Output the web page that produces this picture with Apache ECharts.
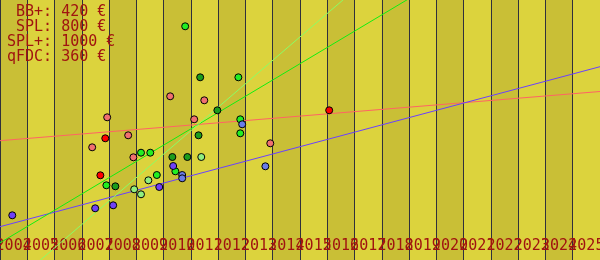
<!DOCTYPE html>
<html>
<head>
<meta charset="utf-8">
<script src="https://cdn.jsdelivr.net/npm/echarts@6/dist/echarts.min.js"></script>
<style>
html,body{margin:0;padding:0;background:#dcd33d;}
#chart{width:600px;height:260px;}
</style>
</head>
<body>
<div id="chart"></div>
<script>
// tick labels (one per year band)
const years = ['2004','2005','2006','2007','2008','2009','2010','2011','2012','2013','2014',
               '2015','2016','2017','2018','2019','2020','2021','2022','2023','2024','2025'];

// legend text
const legendNames = ['BB+', 'SPL', 'SPL+', 'qFDC'];
const legendPrices = [420, 800, 1000, 360];

// scatter points [year, value]
const redPts = [[2007.86,121.7],[2007.68,84.7],[2016.07,149.7]];
const salmonPts = [[2007.93,142.7],[2008.70,124.7],[2007.38,112.7],[2008.89,102.7],
                   [2010.24,163.7],[2011.49,159.7],[2011.12,140.7],[2013.91,116.7]];
const brightGreenPts = [[2007.90,74.7],[2009.17,107.3],[2009.51,107.3],[2009.75,85],
                        [2010.43,88.7],[2010.79,233.7],[2012.74,182.7],[2012.81,140.7],[2012.81,126.7]];
const darkGreenPts = [[2008.23,73.7],[2010.32,103],[2010.87,103],[2011.28,124.7],
                      [2011.34,182.7],[2011.97,149.7]];
const lightGreenPts = [[2008.92,70.7],[2009.17,65.7],[2009.44,79.7],[2011.38,103]];
const purplePts = [[2004.45,44.7],[2007.49,51.7],[2008.15,54.7],[2009.84,73],[2010.35,94]];
const lightBluePts = [[2010.68,85],[2010.68,81.7],[2012.88,135.7],[2013.73,93.7]];

// trend lines [year, value] endpoints
const trendRed = [[2004,119.3],[2026,168.5]];
const trendBlue = [[2004,33.3],[2026,193.3]];
const trendGreen = [[2004,17.2],[2026,375.4]];
const trendLightGreen = [[2004,-34.8],[2026,481]];

const legendText = legendNames.map((n, i) => n.padStart(4) + ': ' + legendPrices[i] + ' €').join('\n');

function trend(data, color) {
  return {type:'line', xAxisIndex:1, data:data, symbol:'none', silent:true, z:1,
          lineStyle:{color:color, width:1}};
}
function pts(data, color) {
  return {type:'scatter', xAxisIndex:1, data:data, symbolSize:7, z:3,
          itemStyle:{color:color, borderColor:'#000', borderWidth:1, opacity:1}};
}

const chart = echarts.init(document.getElementById('chart'));
chart.setOption({
  animation:false,
  backgroundColor:'#dcd33d',
  title:{
    text:legendText, left:7, top:5, padding:0,
    textStyle:{fontFamily:'DejaVu Sans Mono', fontSize:15, fontWeight:'normal', color:'#a01410', lineHeight:15}
  },
  grid:{left:0, right:0, top:0, bottom:0, containLabel:false, outerBoundsMode:'none'},
  xAxis:[
    {type:'category', data:years, boundaryGap:true,
     axisLine:{show:false}, axisTick:{show:false},
     axisLabel:{inside:true, interval:0, hideOverlap:false, color:'#a01410',
                fontFamily:'DejaVu Sans Mono', fontSize:15, margin:6},
     splitLine:{show:true, interval:0, lineStyle:{color:'#30303c', width:1}},
     splitArea:{show:true, interval:0, areaStyle:{color:['#c9bf36','#dcd33d']}}},
    {type:'value', min:2004, max:2026, show:false}
  ],
  yAxis:{type:'value', min:0, max:260, show:false},
  series:[
    trend(trendRed, '#ff6464'),
    trend(trendBlue, '#6a40ff'),
    trend(trendGreen, '#11ee11'),
    trend(trendLightGreen, '#88ff66'),
    pts(salmonPts, '#f07070'),
    pts(redPts, '#ff0000'),
    pts(lightGreenPts, '#90ee80'),
    pts(darkGreenPts, '#1c9c1c'),
    pts(brightGreenPts, '#22ee22'),
    pts(purplePts, '#7040f8'),
    pts(lightBluePts, '#6a7ce8')
  ]
});
</script>
</body>
</html>
